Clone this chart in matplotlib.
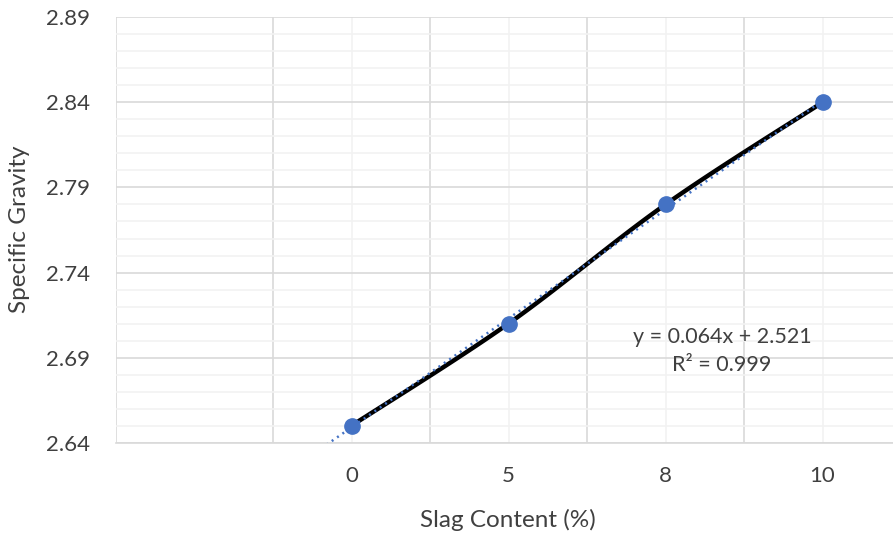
import numpy as np
import matplotlib.pyplot as plt
from matplotlib.ticker import MultipleLocator, FixedLocator

plt.rcParams['font.family'] = ['Lato', 'DejaVu Sans']

slag = ['0', '5', '8', '10']
sg = [2.65, 2.71, 2.78, 2.84]
eq_text = 'y = 0.064x + 2.521\nR² = 0.999'

blue = '#4472C4'
txt = '#404040'

fig = plt.figure(figsize=(8.93, 5.36), dpi=100)
ax = fig.add_axes([116 / 893, 1 - 442.7 / 536, (901 - 116) / 893, (442.7 - 17.3) / 536])

xs = np.arange(len(sg))
ys = np.array(sg)


def smooth(px, py, n=40):
    # catmull-rom style curve, like Excel's "smoothed line"
    p = np.column_stack([px, py]).astype(float)
    p = np.vstack([p[0], p, p[-1]])
    out = []
    for i in range(1, len(p) - 2):
        p0, p1, p2, p3 = p[i - 1], p[i], p[i + 1], p[i + 2]
        t = np.linspace(0, 1, n)[:, None]
        c1 = p1 + (p2 - p0) / 6
        c2 = p2 - (p3 - p1) / 6
        out.append((1 - t) ** 3 * p1 + 3 * (1 - t) ** 2 * t * c1 + 3 * (1 - t) * t ** 2 * c2 + t ** 3 * p2)
    out = np.vstack(out)
    return out[:, 0], out[:, 1]


sx, sy = smooth(xs, ys)
ax.plot(sx, sy, color='black', lw=3.2, solid_capstyle='round', zorder=3)

k, b = np.polyfit(xs, ys, 1)
tx = np.array([-0.5, xs[-1]])
ax.plot(tx, k * tx + b, color=blue, lw=1.8, ls=(0, (0.8, 1.8)), zorder=4)

ax.plot(xs, ys, 'o', color=blue, ms=11, zorder=5)

ax.text(2.36, 2.694, eq_text, ha='center', va='center', fontsize=15.5,
        linespacing=1.5, color=txt)

ax.set_xlim(-1.5, 3.5)
ax.set_ylim(2.64, 2.89)
ax.set_xticks(xs)
ax.set_xticklabels(slag)
ax.xaxis.set_minor_locator(FixedLocator([-1.5, -0.5, 0.5, 1.5, 2.5, 3.5]))
ax.set_yticks(np.arange(2.64, 2.891, 0.05))
ax.set_yticklabels(['2.64', '2.69', '2.74', '2.79', '2.84', '2.89'])
ax.yaxis.set_minor_locator(MultipleLocator(0.01))

ax.grid(True, axis='y', which='major', color='#D9D9D9', lw=1.2, zorder=0)
ax.grid(True, axis='y', which='minor', color='#F2F2F2', lw=1.2, zorder=0)
ax.grid(True, axis='x', which='minor', color='#D9D9D9', lw=1.2, zorder=0)
ax.grid(True, axis='x', which='major', color='#F2F2F2', lw=1.2, zorder=0)
ax.set_axisbelow(True)

ax.tick_params(which='both', length=0)
ax.tick_params(axis='y', pad=19, labelsize=16, labelcolor=txt)
ax.tick_params(axis='x', pad=17, labelsize=16, labelcolor=txt)
for side in ['top', 'right', 'left']:
    ax.spines[side].set_visible(False)
ax.spines['bottom'].set_color('#D9D9D9')
ax.spines['bottom'].set_linewidth(1.2)

ax.set_xlabel('Slag Content (%)', fontsize=17.5, color=txt)
ax.set_ylabel('Specific Gravity', fontsize=17.5, color=txt)
ax.xaxis.set_label_coords((508 - 116) / 785, -(520 - 442.7) / 425.4)
ax.xaxis.label.set_va('center')
ax.yaxis.set_label_coords((20 - 116) / 785, (442.7 - 229) / 425.4)
ax.yaxis.label.set_va('center')

fig.savefig('out.png', dpi=100)
